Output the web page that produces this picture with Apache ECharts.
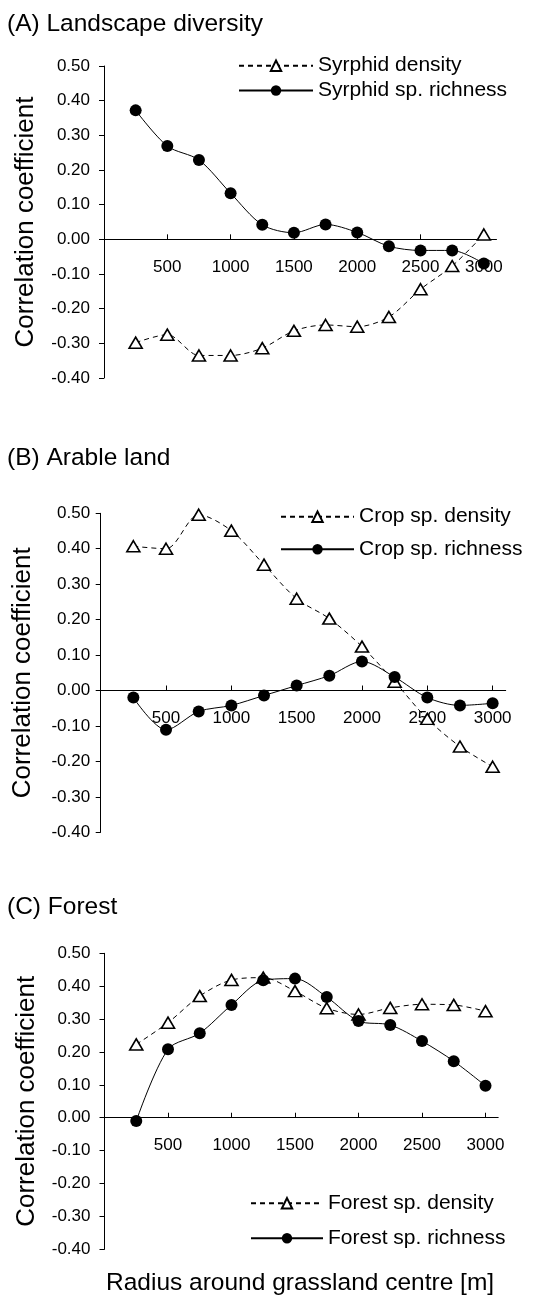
<!DOCTYPE html>
<html>
<head>
<meta charset="utf-8">
<title>Correlation coefficients by radius</title>
<script src="https://cdn.jsdelivr.net/npm/echarts/dist/echarts.min.js"></script>
<style>
  html, body { margin: 0; padding: 0; background: #fff; }
  #chart { width: 554px; height: 1300px; }
</style>
</head>
<body>
<div id="chart"></div>
<script>
// Radius of the circle around each grassland centre (m)
const radius = [250, 500, 750, 1000, 1250, 1500, 1750, 2000, 2250, 2500, 2750, 3000];

// (A) Landscape diversity
const syrphidDensity  = [-0.298, -0.275, -0.335, -0.335, -0.314, -0.264, -0.247, -0.252, -0.224, -0.144, -0.077, 0.014];
const syrphidRichness = [0.372, 0.269, 0.229, 0.133, 0.042, 0.019, 0.043, 0.020, -0.020, -0.032, -0.032, -0.070];

// (B) Arable land
const cropDensity  = [0.407, 0.400, 0.496, 0.451, 0.355, 0.259, 0.203, 0.124, 0.025, -0.080, -0.158, -0.215];
const cropRichness = [-0.020, -0.111, -0.059, -0.042, -0.014, 0.014, 0.042, 0.082, 0.038, -0.020, -0.042, -0.036];

// (C) Forest
const forestDensity  = [0.223, 0.289, 0.370, 0.419, 0.426, 0.385, 0.333, 0.314, 0.334, 0.345, 0.343, 0.324];
const forestRichness = [-0.010, 0.208, 0.257, 0.343, 0.418, 0.423, 0.367, 0.294, 0.282, 0.233, 0.172, 0.097];

// Axis ticks
const xTickValues = [500, 1000, 1500, 2000, 2500, 3000];
const xMin = 0, xMax = 3100;
const yMin = -0.4, yMax = 0.5, yStep = 0.1;

const panelTitles = ['(A) Landscape diversity', '(B) Arable land', '(C) Forest'];
const seriesNames = [
  ['Syrphid density', 'Syrphid sp. richness'],
  ['Crop sp. density', 'Crop sp. richness'],
  ['Forest sp. density', 'Forest sp. richness']
];
const seriesValues = [
  [syrphidDensity, syrphidRichness],
  [cropDensity, cropRichness],
  [forestDensity, forestRichness]
];
const yName = 'Correlation coefficient';
const xName = 'Radius around grassland centre [m]';

const FONT = '"Liberation Sans", Arial, Helvetica, sans-serif';

// Layout of the three panels
const grids = [
  { left: 104,   top: 66,    width: 392.5, height: 312 },
  { left: 100.7, top: 513.3, width: 405,   height: 319 },
  { left: 104.5, top: 953.3, width: 393.7, height: 296 }
];
const yLabelMargin = [14, 10.5, 14];
const titleTops = [9, 443, 892];
// legend rows: icon left, icon width, centre y of each row
const legendPos = [
  { left: 238, width: 74, rows: [65.7, 90.5] },
  { left: 280, width: 73, rows: [516.7, 549.3] },
  { left: 250, width: 72, rows: [1203.3, 1238.3] }
];

const pairs = vals => radius.map((r, i) => [r, vals[i]]);

// The radius axis crosses at r = 0: a second grid per panel ends on that line
// and carries the visible radius axis with the same scale.
const axisGrids = grids.map(g => ({
  left: g.left,
  width: g.width,
  top: g.top,
  height: g.height * (yMax - 0) / (yMax - yMin)
}));

const titleStyle = { fontFamily: FONT, fontSize: 24.5, fontWeight: 'normal', color: '#000', lineHeight: 30 };

const option = {
  animation: false,
  backgroundColor: '#ffffff',
  textStyle: { fontFamily: FONT, color: '#000' },
  title: panelTitles.map((t, i) => ({
    text: t, left: 7, top: titleTops[i], padding: 0, textStyle: titleStyle
  })).concat([{
    text: xName, left: 106, top: 1268, padding: 0, textStyle: titleStyle
  }]),
  grid: grids.concat(axisGrids).map(g => Object.assign({ outerBoundsMode: 'none', containLabel: false }, g)),
  xAxis: [],
  yAxis: [],
  legend: [],
  series: []
};

grids.forEach((g, i) => {
  // scale used by the series (not drawn)
  option.xAxis.push({
    type: 'value', gridIndex: i, min: xMin, max: xMax, show: false
  });
  // correlation axis
  option.yAxis.push({
    type: 'value',
    gridIndex: i,
    min: yMin,
    max: yMax,
    interval: yStep,
    name: yName,
    nameLocation: 'middle',
    nameGap: 65,
    nameTextStyle: { fontFamily: FONT, fontSize: 26, color: '#000' },
    axisLine: { show: true, onZero: false, lineStyle: { color: '#000', width: 1 } },
    axisTick: { show: true, inside: false, length: 5, lineStyle: { color: '#000' } },
    axisLabel: {
      margin: yLabelMargin[i],
      fontSize: 17,
      fontFamily: FONT,
      color: '#000',
      formatter: v => (Math.abs(v) < 1e-9 ? 0 : v).toFixed(2)
    },
    splitLine: { show: false }
  });
});

axisGrids.forEach((g, i) => {
  // visible radius axis lying on the zero line
  option.xAxis.push({
    type: 'value',
    gridIndex: 3 + i,
    position: 'bottom',
    min: xMin,
    max: xMax,
    axisLine: { show: true, onZero: false, lineStyle: { color: '#000', width: 1 } },
    axisTick: { show: true, inside: true, length: 5, customValues: xTickValues, lineStyle: { color: '#000' } },
    axisLabel: {
      customValues: xTickValues,
      margin: 19,
      fontSize: 17,
      fontFamily: FONT,
      color: '#000',
      letterSpacing: -0.6,
      formatter: v => String(v)
    },
    splitLine: { show: false }
  });
  option.yAxis.push({
    type: 'value', gridIndex: 3 + i, min: 0, max: 1, show: false
  });
});

seriesValues.forEach((pair, i) => {
  // density: dashed line, open triangles
  option.series.push({
    name: seriesNames[i][0],
    type: 'line',
    xAxisIndex: i,
    yAxisIndex: i,
    data: pairs(pair[0]),
    smooth: 0.3,
    symbol: 'triangle',
    symbolSize: [13, 11],
    lineStyle: { color: '#000', width: 1, type: [5, 4] },
    itemStyle: { color: '#fff', borderColor: '#000', borderWidth: 1.6 },
    z: 3
  });
  // richness: solid line, filled circles
  option.series.push({
    name: seriesNames[i][1],
    type: 'line',
    xAxisIndex: i,
    yAxisIndex: i,
    data: pairs(pair[1]),
    smooth: 0.3,
    symbol: 'circle',
    symbolSize: 12,
    lineStyle: { color: '#000', width: 1, type: 'solid' },
    itemStyle: { color: '#000', borderColor: '#000', borderWidth: 0 },
    z: 4
  });
  // one legend row per series so each row sits where it belongs
  seriesNames[i].forEach((name, k) => {
    option.legend.push({
      data: [name],
      left: legendPos[i].left,
      top: legendPos[i].rows[k] - 12,
      padding: 0,
      itemWidth: legendPos[i].width,
      itemHeight: 13,
      selectedMode: false,
      textStyle: { fontFamily: FONT, fontSize: 21, color: '#000', lineHeight: 24 }
    });
  });
});

const chart = echarts.init(document.getElementById('chart'), null, { renderer: 'canvas' });
chart.setOption(option);
</script>
</body>
</html>
